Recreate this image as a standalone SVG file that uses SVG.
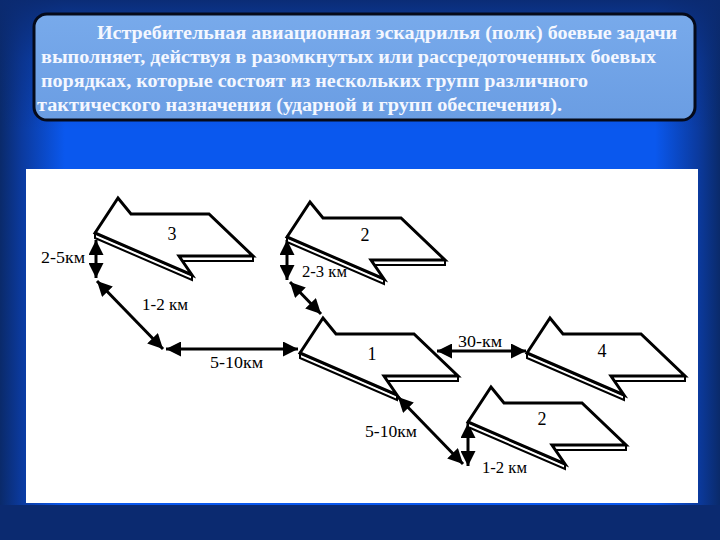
<svg xmlns="http://www.w3.org/2000/svg" xmlns:xlink="http://www.w3.org/1999/xlink" width="720" height="540" viewBox="0 0 720 540">
<style>
.hdr{font-weight:bold;font-size:18.5px;fill:#f4f7ff}
.num{font-size:18px;fill:#000}
.lbl{font-size:16px;fill:#000}
.body{fill:#fff;stroke:#000;stroke-width:3;stroke-linejoin:miter}
.edge{fill:#fff;stroke:#000;stroke-width:2}
.con{stroke:#000;stroke-width:3;fill:none;marker-start:url(#ah);marker-end:url(#ah)}
</style>
<defs>
<linearGradient id="bgH" x1="0" y1="0" x2="1" y2="0">
<stop offset="0" stop-color="#0a2a6a"/>
<stop offset="0.03" stop-color="#0b3a9e"/>
<stop offset="0.09" stop-color="#0a58ee"/>
<stop offset="0.91" stop-color="#0a58ee"/>
<stop offset="0.97" stop-color="#0b3a9e"/>
<stop offset="1" stop-color="#0a2a6a"/>
</linearGradient>
<linearGradient id="bgV" x1="0" y1="0" x2="0" y2="1">
<stop offset="0" stop-color="#0b2a70" stop-opacity="0.95"/>
<stop offset="0.45" stop-color="#0b2a70" stop-opacity="0.35"/>
<stop offset="1" stop-color="#0b2a70" stop-opacity="0"/>
</linearGradient>
<linearGradient id="boxG" x1="0" y1="0" x2="0" y2="1">
<stop offset="0" stop-color="#78aaeb"/>
<stop offset="1" stop-color="#6a9de3"/>
</linearGradient>
<marker id="ah" viewBox="0 0 15 15" refX="15" refY="7.5" markerWidth="15" markerHeight="15" markerUnits="userSpaceOnUse" orient="auto-start-reverse">
<path d="M0,0 L15,7.5 L0,15 Z" fill="#000"/>
</marker>
<g id="plane">
<polygon class="edge" points="0,0 97,42 97,47 0,5"/>
<polygon class="edge" points="84,23 158,23 158,28 84,28"/>
<polygon class="body" points="0,0 23,-35 36,-19 114,-19 158,23 84,23 97,42"/>
</g>
</defs>

<rect x="0" y="0" width="720" height="540" fill="#0b2a70"/>
<rect x="0" y="0" width="720" height="505" fill="url(#bgH)"/>
<rect x="0" y="0" width="720" height="130" fill="url(#bgV)"/>

<g id="header" font-family="'Liberation Serif', 'DejaVu Serif', 'Times New Roman', serif">
<rect x="34" y="14" width="661" height="106" rx="13" ry="13" fill="url(#boxG)" stroke="#050a1a" stroke-width="3"/>
<text class="hdr" x="97" y="39" textLength="580" lengthAdjust="spacingAndGlyphs">Истребительная авиационная эскадрилья (полк) боевые задачи</text>
<text class="hdr" x="41" y="63" textLength="615" lengthAdjust="spacingAndGlyphs">выполняет, действуя в разомкнутых или рассредоточенных боевых</text>
<text class="hdr" x="41" y="87" textLength="547" lengthAdjust="spacingAndGlyphs">порядках, которые состоят из нескольких групп различного</text>
<text class="hdr" x="37" y="111" textLength="525" lengthAdjust="spacingAndGlyphs">тактического назначения (ударной и групп обеспечения).</text>
</g>

<rect id="panel" x="26" y="169" width="672" height="334" fill="#fff"/>

<g id="connectors">
<line class="con" x1="96" y1="240" x2="96" y2="278"/>
<line class="con" x1="97" y1="281" x2="163" y2="349"/>
<line class="con" x1="166" y1="349" x2="298" y2="349"/>
<line class="con" x1="287" y1="240" x2="287" y2="280"/>
<line class="con" x1="290" y1="282" x2="321" y2="314"/>
<line class="con" x1="437" y1="351" x2="526" y2="351"/>
<line class="con" x1="398" y1="397" x2="463" y2="464"/>
<line class="con" x1="468" y1="423" x2="468" y2="466"/>
</g>

<g id="n3" transform="translate(95,233)"><use xlink:href="#plane" href="#plane"/></g>
<g id="n2a" transform="translate(287,237)"><use xlink:href="#plane" href="#plane"/></g>
<g id="n1" transform="translate(300,353)"><use xlink:href="#plane" href="#plane"/></g>
<g id="n4" transform="translate(527,353)"><use xlink:href="#plane" href="#plane"/></g>
<g id="n2b" transform="translate(468,422)"><use xlink:href="#plane" href="#plane"/></g>

<g id="numbers" font-family="'Liberation Serif', 'DejaVu Serif', 'Times New Roman', serif">
<text class="num" x="172" y="240" text-anchor="middle">3</text>
<text class="num" x="365" y="241" text-anchor="middle">2</text>
<text class="num" x="372" y="360" text-anchor="middle">1</text>
<text class="num" x="602" y="357" text-anchor="middle">4</text>
<text class="num" x="542" y="425" text-anchor="middle">2</text>
</g>

<g id="labels" font-family="'Liberation Serif', 'DejaVu Serif', 'Times New Roman', serif">
<text class="lbl" x="41" y="263" textLength="44" lengthAdjust="spacingAndGlyphs">2-5км</text>
<text class="lbl" x="142" y="310" textLength="46" lengthAdjust="spacingAndGlyphs">1-2 км</text>
<text class="lbl" x="210" y="368" textLength="53" lengthAdjust="spacingAndGlyphs">5-10км</text>
<text class="lbl" x="302" y="277" textLength="45" lengthAdjust="spacingAndGlyphs">2-3 км</text>
<text class="lbl" x="458" y="347" textLength="44" lengthAdjust="spacingAndGlyphs">30-км</text>
<text class="lbl" x="365" y="437" textLength="52" lengthAdjust="spacingAndGlyphs">5-10км</text>
<text class="lbl" x="482" y="473" textLength="45" lengthAdjust="spacingAndGlyphs">1-2 км</text>
</g>
</svg>
